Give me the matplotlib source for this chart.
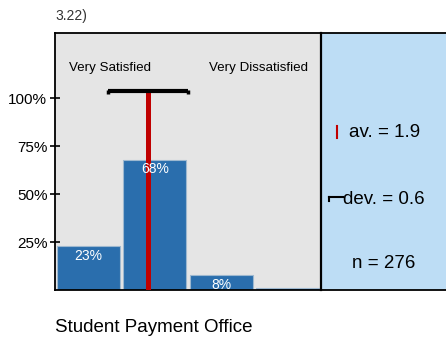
import numpy as np
import matplotlib.pyplot as plt

plt.rcParams['font.family'] = ['Liberation Sans', 'DejaVu Sans']

# survey item: share of answers per scale point
categories = [1, 2, 3, 4]
shares = [0.23, 0.68, 0.08, 0.01]
bar_labels = ["23%", "68%", "8%", ""]
mean_value = 1.9
std_value = 0.6
n_value = 276
item_number = "3.22)"
item_title = "Student Payment Office"
y_ticks = [0.25, 0.50, 0.75, 1.00]
y_tick_labels = ["25%", "50%", "75%", "100%"]

BAR_COLOR = "#2A6EAD"
RED = "#C00000"
PANEL_BG = "#BDDDF5"
PLOT_BG = "#E5E5E5"


def main():
    W, H = 446, 339
    fig = plt.figure(figsize=(W / 100, H / 100), dpi=100)

    left, bottom, top = 55, 290, 33
    split = 321
    ax = fig.add_axes([left / W, (H - bottom) / H, (split - left) / W, (bottom - top) / H])
    side = fig.add_axes([split / W, (H - bottom) / H, 140 / W, (bottom - top) / H])

    ax.set_facecolor(PLOT_BG)
    ax.bar(categories, shares, width=0.95, color=BAR_COLOR,
           edgecolor="#9DB8D0", linewidth=0.8, zorder=2)
    for x, v, lab in zip(categories, shares, bar_labels):
        if lab:
            ax.text(x, v - 0.015, lab, ha="center", va="top",
                    color="white", fontsize=10, zorder=4)

    # mean line and +/- std bracket
    ax.plot([mean_value, mean_value], [0, 1.04], color=RED, lw=3.6,
            solid_capstyle="butt", zorder=3)
    ax.plot([mean_value - std_value, mean_value + std_value], [1.04, 1.04],
            color="black", lw=3.0, solid_capstyle="butt", zorder=3)
    for xe in (mean_value - std_value, mean_value + std_value):
        ax.plot([xe, xe], [1.045, 1.02], color="black", lw=2.5,
                solid_capstyle="butt", zorder=3)

    ax.text(1.32, 1.16, "Very Satisfied", ha="center", va="center", fontsize=9.6)
    ax.text(3.56, 1.16, "Very Dissatisfied", ha="center", va="center", fontsize=9.6)

    ax.set_xlim(0.5, 4.5)
    ax.set_ylim(0, 1.34)
    ax.set_xticks([])
    ax.set_yticks(y_ticks)
    ax.set_yticklabels(y_tick_labels, fontsize=11)
    ax.tick_params(axis="y", length=7, width=1.2, direction="inout", pad=2)
    for s in ax.spines.values():
        s.set_color("black")
        s.set_linewidth(1.3)

    # info panel on the right
    side.set_facecolor(PANEL_BG)
    side.set_xlim(0, 1)
    side.set_ylim(0, 1)
    side.set_xticks([])
    side.set_yticks([])
    for s in side.spines.values():
        s.set_color("black")
        s.set_linewidth(1.3)
    side.spines["right"].set_visible(False)
    side.spines["left"].set_linewidth(1.6)

    side.plot([0.114, 0.114], [0.592, 0.638], color=RED, lw=1.5)
    side.text(0.2, 0.611, f"av. = {mean_value}", va="center", fontsize=13.5)
    side.plot([0.057, 0.16], [0.362, 0.362], color="black", lw=1.5)
    side.plot([0.057, 0.057], [0.362, 0.345], color="black", lw=1.5)
    side.text(0.155, 0.354, f"dev. = {std_value}", va="center", fontsize=13.5)
    side.text(0.45, 0.105, f"n = {n_value}", ha="center", va="center", fontsize=13.5)

    fig.text(left / W, 1 - 16 / H, item_number, fontsize=10, color="#333333",
             va="center", ha="left")
    fig.text(left / W, 1 - 327 / H, item_title, fontsize=13.5, va="center", ha="left")

    fig.savefig("out.png", dpi=100)


if __name__ == '__main__':
    main()
